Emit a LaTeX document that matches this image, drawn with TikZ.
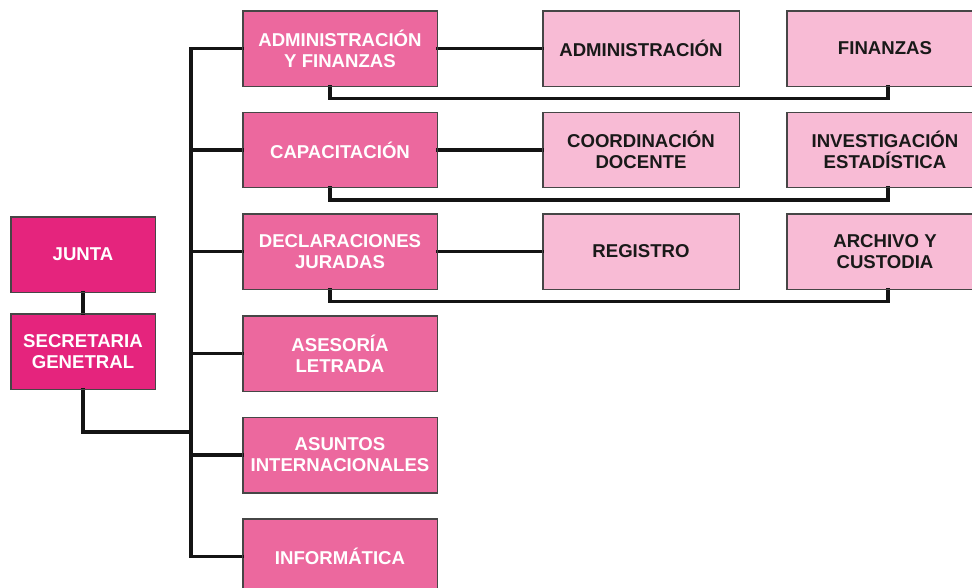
\documentclass[tikz,border=0pt]{standalone}
\usepackage{fontspec}
\setmainfont{Liberation Sans}
\definecolor{deepmag}{RGB}{229,36,125}
\definecolor{midpink}{RGB}{236,104,158}
\definecolor{lightpink}{RGB}{248,187,213}
\definecolor{edgegray}{RGB}{70,70,70}
\definecolor{inkline}{RGB}{20,20,20}
\tikzset{
  basebox/.style={rectangle, draw=edgegray, line width=0.9pt, minimum height=75pt,
    align=center, inner sep=0pt, font=\fontsize{18.6}{21}\selectfont\bfseries},
  topbox/.style={basebox, fill=deepmag, text=white, minimum width=144pt},
  deptbox/.style={basebox, fill=midpink, text=white, minimum width=194pt},
  subbox/.style={basebox, fill=lightpink, text=black!90, minimum width=196pt},
  link/.style={draw=inkline, line width=3.6pt, line cap=rect},
}
\begin{document}
\begin{tikzpicture}[x=1pt, y=-1pt]
\useasboundingbox (0,0) rectangle (972,588);
\clip (0,0) rectangle (972,588);
\fill[white] (0,0) rectangle (972,588);

% top level
\node[topbox] (junta) at (83,254.5) {JUNTA};
\node[topbox] (sec) at (83,351.5) {SECRETARIA\\GENETRAL};

% departments
\node[deptbox] (adm) at (340,48.5) {ADMINISTRACIÓN\\Y FINANZAS};
\node[deptbox] (cap) at (340,150) {CAPACITACIÓN};
\node[deptbox] (dec) at (340,251.5) {DECLARACIONES\\JURADAS};
\node[deptbox] (ase) at (340,353.5) {ASESORÍA\\LETRADA};
\node[deptbox] (asu) at (340,455) {ASUNTOS\\INTERNACIONALES};
\node[deptbox] (inf) at (340,556.5) {INFORMÁTICA};

% sub-units
\node[subbox] (a1) at (641,48.5) {ADMINISTRACIÓN};
\node[subbox] (a2) at (885,48.5) {FINANZAS};
\node[subbox] (c1) at (641,150) {COORDINACIÓN\\DOCENTE};
\node[subbox] (c2) at (885,150) {INVESTIGACIÓN\\ESTADÍSTICA};
\node[subbox] (d1) at (641,251.5) {REGISTRO};
\node[subbox] (d2) at (885,251.5) {ARCHIVO Y\\CUSTODIA};

\coordinate (tj) at (191,432);

% connectors
\draw[link] (junta.south) -- (sec.north);
\draw[link] (sec.south) |- (tj);
\draw[link] (adm.west) -- (adm.west -| tj) |- (inf.west);
\foreach \d in {cap,dec,ase,asu}{
  \draw[link] (\d.west) -- (\d.west -| tj);
}
\draw[link] (adm.east) -- (a1.west);
\draw[link] (cap.east) -- (c1.west);
\draw[link] (dec.east) -- (d1.west);
\draw[link] ([xshift=-10pt]adm.south) -- ++(0,12) -| ([xshift=3pt]a2.south);
\draw[link] ([xshift=-10pt]cap.south) -- ++(0,12) -| ([xshift=3pt]c2.south);
\draw[link] ([xshift=-10pt]dec.south) -- ++(0,12) -| ([xshift=3pt]d2.south);

% redraw box borders on top so line ends tuck under them
\foreach \n in {junta,sec,adm,cap,dec,ase,asu,inf,a1,a2,c1,c2,d1,d2}{
  \draw[edgegray, line width=0.9pt] (\n.north west) rectangle (\n.south east);
}
\end{tikzpicture}
\end{document}
